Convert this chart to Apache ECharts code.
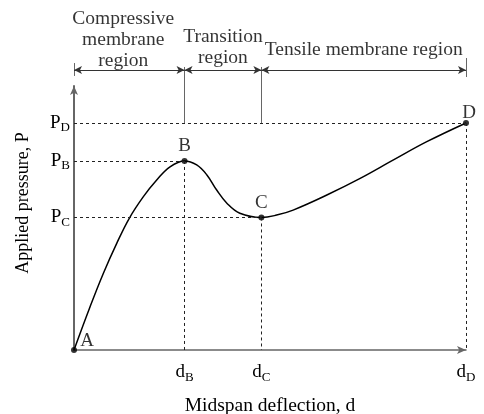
<!DOCTYPE html>
<html>
<head>
<meta charset="utf-8">
<script src="https://cdn.jsdelivr.net/npm/echarts@6/dist/echarts.min.js"></script>
<style>
  html, body { margin: 0; padding: 0; background: #fff; }
  #chart { width: 484px; height: 414px; }
</style>
</head>
<body>
<div id="chart"></div>
<script>
// key points of the curve (A, B, C, D)
const pointNames = ['A', 'B', 'C', 'D'];
const pointX = [0, 28.2, 47.8, 100];
const pointY = [0, 71.6, 50.2, 86];

// load-deflection curve
const curveX = [0, 4.1, 7.5, 10.9, 14.1, 17.7, 21.1, 24.5, 28.2, 31.3, 33.9, 36.4, 39.0, 42.3, 47.8, 51.7, 55.9, 64.5, 73.0, 81.5, 90.0, 100];
const curveY = [0, 16.4, 29.1, 40.4, 49.9, 58.1, 64.4, 69.4, 71.6, 70.1, 66.3, 60.6, 55.6, 51.8, 50.2, 51.1, 53.0, 58.7, 65.0, 72.0, 78.9, 86];

// tick labels
const xTickMain = ['d', 'd', 'd'];
const xTickSub = ['B', 'C', 'D'];
const yTickMain = ['P', 'P', 'P'];
const yTickSub = ['B', 'C', 'D'];

// regions along the top
const regionNames = ['Compressive\nmembrane\nregion', 'Transition\nregion', 'Tensile membrane region'];
const regionBounds = [0, 28.2, 47.8, 100];
const regionLabelY = [117.4, 114.6, 113.6];

const FONT = 'Liberation Serif';
const INK = '#000';
const AXIS = '#666';

const gridTop = 86, gridBottom = 64, chartH = 414;
const yMax = 100;
const topYMax = yMax * (chartH - gridBottom) / (chartH - gridBottom - gridTop);

const arrowRowY = 106.1;
const sepTopY = 107.2;

const chart = echarts.init(document.getElementById('chart'));

const xTickVals = pointX.slice(1);
const yTickVals = pointY.slice(1);

function subLabel(vals, main, sub) {
  return function (v) {
    let i = vals.findIndex(t => Math.abs(t - v) < 1e-6);
    if (i < 0) return '';
    return '{m|' + main[i] + '}{s|' + sub[i] + '}';
  };
}

const rich = {
  m: { fontFamily: FONT, fontSize: 19, color: INK },
  s: { fontFamily: FONT, fontSize: 13, color: INK, padding: [10, 0, 0, 0] }
};

// dashed guides from each point to the axes
const guides = [];
for (let i = 1; i < pointX.length; i++) {
  guides.push([{ coord: [0, pointY[i]] }, { coord: [pointX[i], pointY[i]] }]);
  guides.push([{ coord: [pointX[i], pointY[i]] }, { coord: [pointX[i], 0] }]);
}

// region arrows and separators (top grid)
const regionArrows = [];
for (let i = 0; i < regionNames.length; i++) {
  regionArrows.push([{ coord: [regionBounds[i], arrowRowY] }, { coord: [regionBounds[i + 1], arrowRowY] }]);
}
const separators = [];
for (let i = 1; i < regionBounds.length - 1; i++) {
  separators.push([{ coord: [regionBounds[i], pointY[3]] }, { coord: [regionBounds[i], sepTopY] }]);
}
separators.push([{ coord: [regionBounds[0], arrowRowY - 2.3] }, { coord: [regionBounds[0], arrowRowY + 2.6] }]);
separators.push([{ coord: [regionBounds[3], arrowRowY - 2.7] }, { coord: [regionBounds[3], arrowRowY + 4.5] }]);

const regionLabelData = regionNames.map((n, i) => ({
  name: n,
  value: [(regionBounds[i] + regionBounds[i + 1]) / 2, regionLabelY[i]]
}));

const option = {
  animation: false,
  backgroundColor: '#fff',
  grid: [
    { left: 74, right: 18, top: gridTop, bottom: gridBottom, outerBoundsMode: 'none' },
    { left: 74, right: 18, top: 0, bottom: gridBottom, outerBoundsMode: 'none' }
  ],
  xAxis: [
    {
      type: 'value', min: 0, max: 100, gridIndex: 0,
      name: 'Midspan deflection, d',
      nameLocation: 'middle', nameGap: 46,
      nameTextStyle: { fontFamily: FONT, fontSize: 19.5, color: INK },
      axisLine: { show: true, symbol: ['none', 'arrow'], symbolSize: [6, 9], lineStyle: { color: AXIS, width: 1.5 } },
      axisTick: { show: false },
      splitLine: { show: false },
      axisLabel: { customValues: xTickVals, formatter: subLabel(xTickVals, xTickMain, xTickSub), rich: rich, margin: 11 }
    },
    { type: 'value', min: 0, max: 100, gridIndex: 1, show: false }
  ],
  yAxis: [
    {
      type: 'value', min: 0, max: yMax, gridIndex: 0,
      name: 'Applied pressure, P',
      nameLocation: 'middle', nameGap: 42,
      nameTextStyle: { fontFamily: FONT, fontSize: 18, color: INK, padding: [0, 0, 0, 30] },
      axisLine: { show: true, symbol: ['none', 'arrow'], symbolSize: [6, 9], lineStyle: { color: AXIS, width: 2 } },
      axisTick: { show: false },
      splitLine: { show: false },
      axisLabel: { customValues: yTickVals, formatter: subLabel(yTickVals, yTickMain, yTickSub), rich: rich, margin: 4 }
    },
    { type: 'value', min: 0, max: topYMax, gridIndex: 1, show: false }
  ],
  series: [
    {
      type: 'line',
      data: curveX.map((x, i) => [x, curveY[i]]),
      smooth: 0.4,
      showSymbol: false,
      lineStyle: { color: INK, width: 1.5 },
      silent: true,
      markLine: {
        silent: true, symbol: ['none', 'none'], label: { show: false },
        lineStyle: { type: [3, 3], color: '#222', width: 1 },
        data: guides
      },
      z: 3
    },
    {
      type: 'scatter',
      data: pointX.map((x, i) => ({ name: pointNames[i], value: [x, pointY[i]] })),
      symbolSize: 6,
      itemStyle: { color: INK },
      silent: true,
      clip: false,
      label: {
        show: true, formatter: '{b}', position: 'top', distance: 2,
        fontFamily: FONT, fontSize: 19, color: INK
      },
      labelLayout: function (p) {
        if (p.dataIndex === 0) return { dx: 13, dy: 6 };
        if (p.dataIndex === 3) return { dx: 3, dy: 5 };
        return {};
      },
      z: 4
    },
    {
      type: 'scatter',
      xAxisIndex: 1, yAxisIndex: 1,
      data: regionLabelData,
      symbolSize: 0,
      silent: true,
      label: {
        show: true, position: 'inside', formatter: '{b}',
        fontFamily: FONT, fontSize: 19.5, color: INK, lineHeight: 21, align: 'center'
      },
      labelLayout: function (p) {
        return p.dataIndex === 0 ? { dx: -6 } : {};
      },
      markLine: {
        silent: true, label: { show: false },
        symbol: ['none', 'none'],
        lineStyle: { type: 'solid', color: AXIS, width: 1 },
        data: separators
      }
    },
    {
      type: 'line',
      xAxisIndex: 1, yAxisIndex: 1,
      data: [],
      silent: true,
      markLine: {
        silent: true, label: { show: false },
        symbol: ['arrow', 'arrow'], symbolSize: [6, 8],
        lineStyle: { type: 'solid', color: '#333', width: 1 },
        data: regionArrows
      }
    }
  ]
};

chart.setOption(option);
</script>
</body>
</html>
